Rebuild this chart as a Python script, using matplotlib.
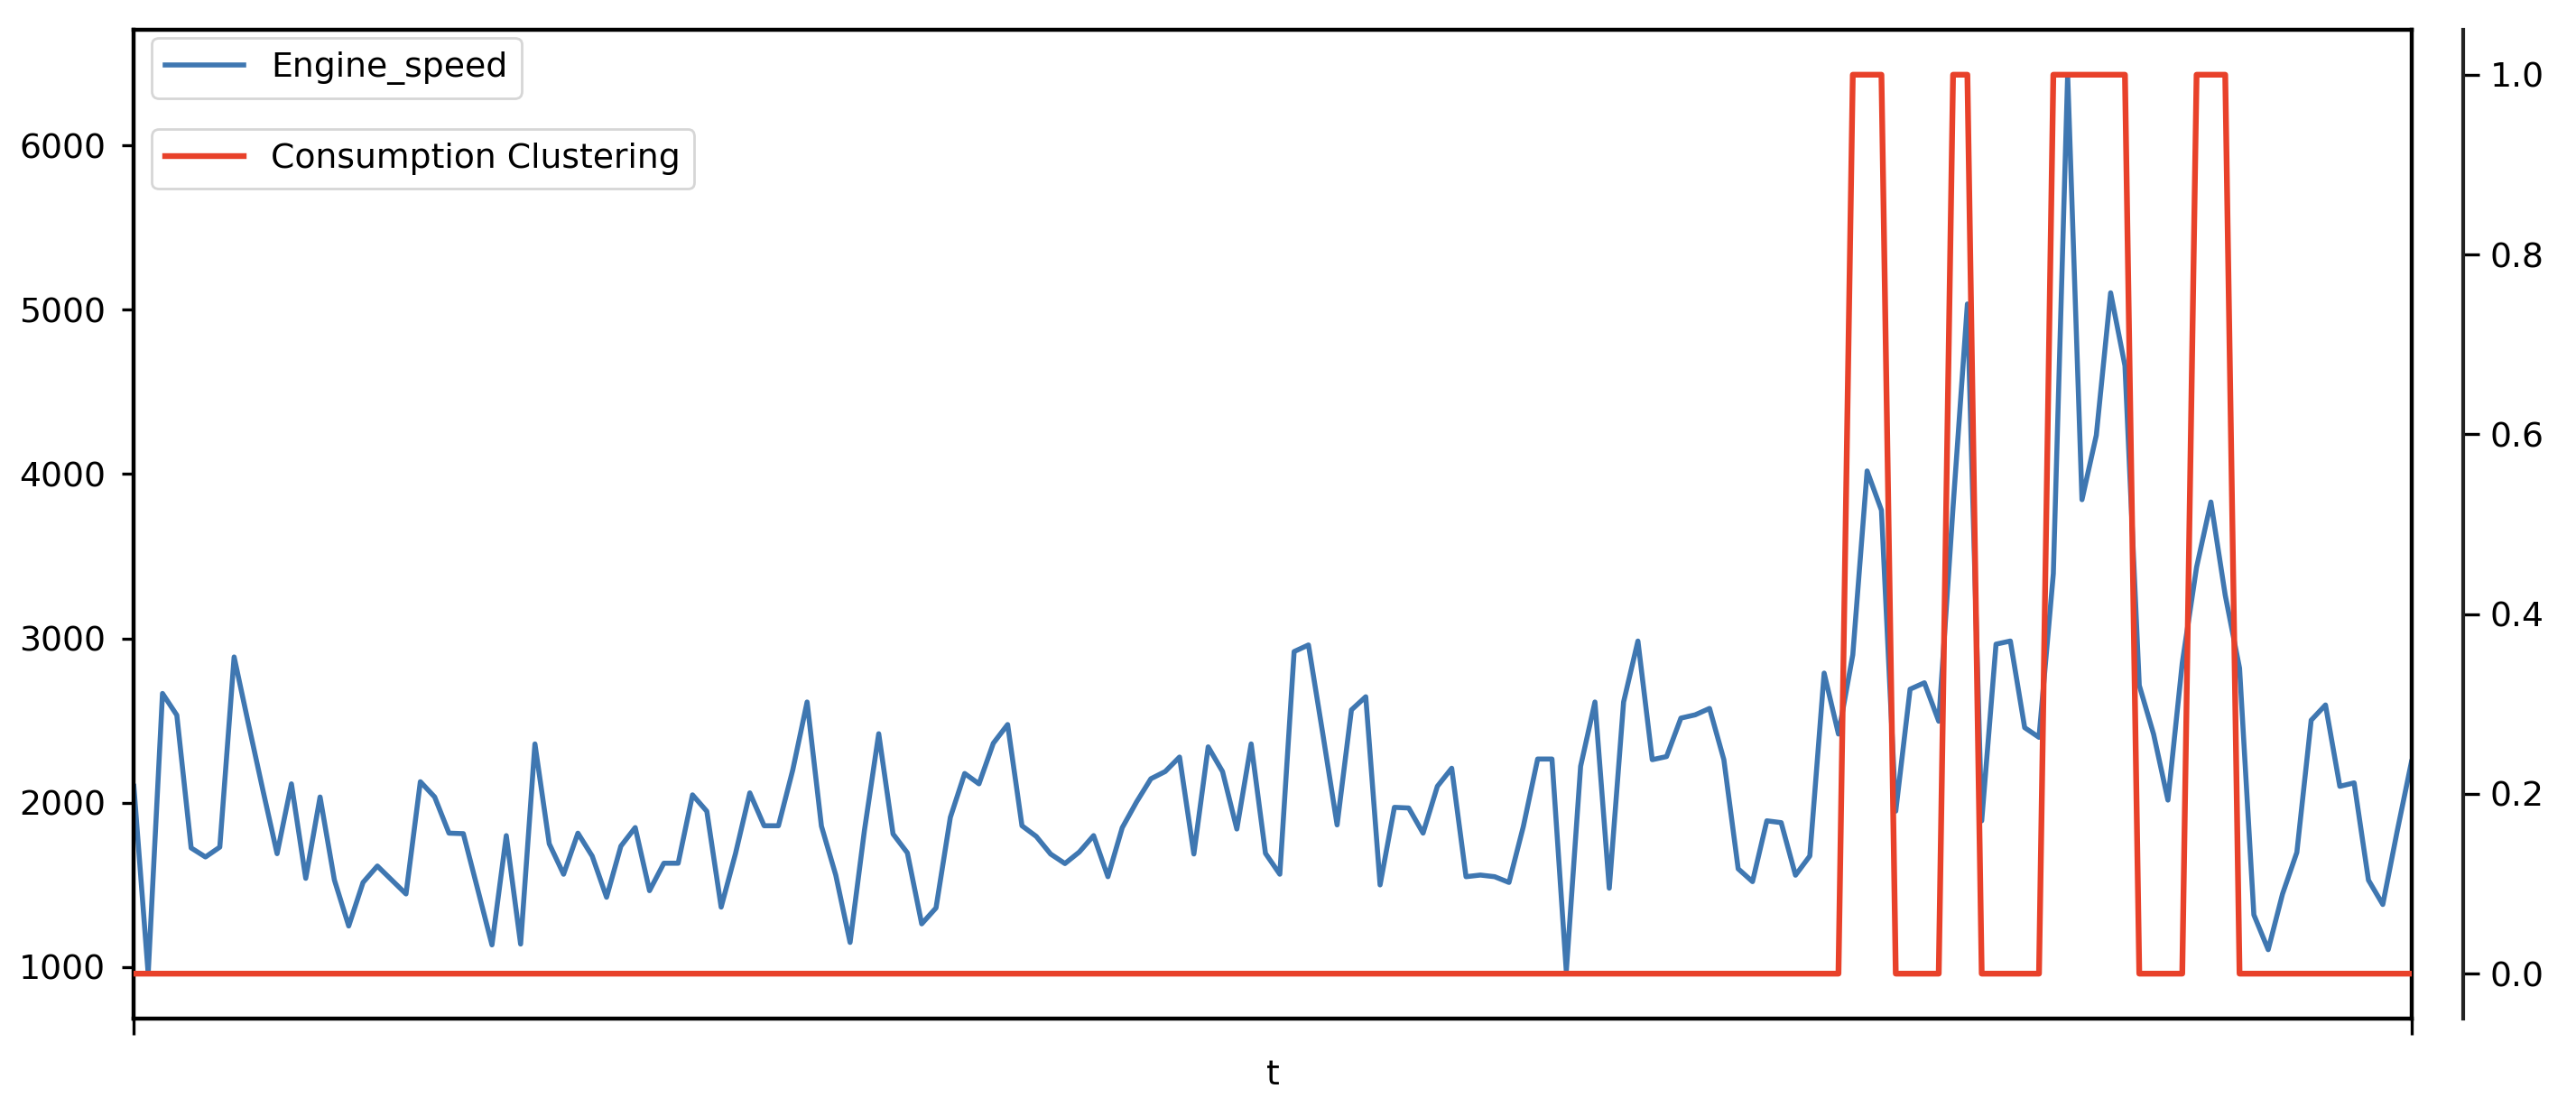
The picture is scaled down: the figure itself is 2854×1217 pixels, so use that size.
import numpy as np
import matplotlib
matplotlib.use("Agg")
import matplotlib.pyplot as plt

# engine speed samples (one value per time step)
engine_speed = [
    2100, 960, 2665, 2533, 1725, 1670, 1730, 2887, 2480, 2080,
    1690, 2115, 1540, 2035, 1530, 1250, 1515, 1615, 1530, 1445,
    2128, 2035, 1815, 1812, 1475, 1135, 1800, 1140, 2358, 1750,
    1565, 1815, 1675, 1425, 1736, 1849, 1465, 1632, 1632, 2048,
    1948, 1365, 1690, 2060, 1860, 1860, 2200, 2613, 1858, 1560,
    1150, 1830, 2420, 1810, 1695, 1263, 1360, 1911, 2178, 2115,
    2362, 2476, 1860, 1795, 1688, 1630, 1700, 1800, 1550, 1848,
    2005, 2146, 2190, 2278, 1688, 2340, 2190, 1840, 2358, 1692,
    1565, 2920, 2960, 2420, 1865, 2565, 2645, 1500, 1972, 1968,
    1815, 2100, 2210, 1550, 1560, 1550, 1515, 1855, 2266, 2266,
    975, 2222, 2613, 1480, 2613, 2984, 2262, 2281, 2515, 2535,
    2574, 2262, 1598, 1520, 1890, 1879, 1559, 1676, 2789, 2418,
    2900, 4019, 3780, 1949, 2691, 2730, 2496, 3800, 5035, 1890,
    2965, 2984, 2457, 2398, 3394, 6430, 3844, 4236, 5103, 4659,
    2714, 2417, 2016, 2850, 3433, 3830, 3263, 2819, 1318, 1106,
    1445, 1698, 2502, 2595, 2100, 2121, 1529, 1381, 1825, 2248,
]

# cluster label per time step (0 / 1)
consumption_cluster = [
    0, 0, 0, 0, 0, 0, 0, 0, 0, 0,
    0, 0, 0, 0, 0, 0, 0, 0, 0, 0,
    0, 0, 0, 0, 0, 0, 0, 0, 0, 0,
    0, 0, 0, 0, 0, 0, 0, 0, 0, 0,
    0, 0, 0, 0, 0, 0, 0, 0, 0, 0,
    0, 0, 0, 0, 0, 0, 0, 0, 0, 0,
    0, 0, 0, 0, 0, 0, 0, 0, 0, 0,
    0, 0, 0, 0, 0, 0, 0, 0, 0, 0,
    0, 0, 0, 0, 0, 0, 0, 0, 0, 0,
    0, 0, 0, 0, 0, 0, 0, 0, 0, 0,
    0, 0, 0, 0, 0, 0, 0, 0, 0, 0,
    0, 0, 0, 0, 0, 0, 0, 0, 0, 0,
    1, 1, 1, 0, 0, 0, 0, 1, 1, 0,
    0, 0, 0, 0, 1, 1, 1, 1, 1, 1,
    0, 0, 0, 0, 1, 1, 1, 0, 0, 0,
    0, 0, 0, 0, 0, 0, 0, 0, 0, 0,
]

t = np.arange(len(engine_speed))

FS = 13.6
blue = '#3f77b1'
red = '#e8412a'

fig = plt.figure(figsize=(14.27, 6.085), dpi=200)
ax = fig.add_axes([0.05196, 0.07231, 0.88416, 0.90058])

l1, = ax.plot(t, engine_speed, color=blue, lw=2.0)
ax.set_xlim(0, len(t) - 1)
ax.set_xticks([0, len(t) - 1])
ax.set_xticklabels(['', ''])
ax.set_xlabel('t', fontsize=FS, va='center')
ax.xaxis.set_label_coords(0.5, -0.0575)
ax.tick_params(axis='x', length=6.4, width=1.2)
ax.tick_params(axis='y', length=4.7, width=1.2, labelsize=FS, pad=6.5)
for s in ax.spines.values():
    s.set_linewidth(1.6)
    s.set_color('black')

# secondary axis for the cluster label
ax2 = ax.twinx()
l2, = ax2.plot(t, consumption_cluster, color=red, lw=2.3)
ax2.set_xlim(0, len(t) - 1)
for k in ['left', 'top', 'bottom']:
    ax2.spines[k].set_visible(False)
ax2.spines['right'].set_position(('outward', 20.5))
ax2.spines['right'].set_linewidth(1.5)
ax2.spines['right'].set_color('#222222')
ax2.tick_params(axis='y', length=6.4, width=1.2, labelsize=FS, pad=4.3)

ax.legend([l1], ['Engine_speed'], loc='upper left', bbox_to_anchor=(0.0078, 0.992),
          borderaxespad=0, fontsize=FS, handlelength=2.3)
ax2.legend([l2], ['Consumption Clustering'], loc='upper left', bbox_to_anchor=(0.0078, 0.8994),
           borderaxespad=0, fontsize=FS, handlelength=2.3)

fig.savefig('out.png', dpi=200)
